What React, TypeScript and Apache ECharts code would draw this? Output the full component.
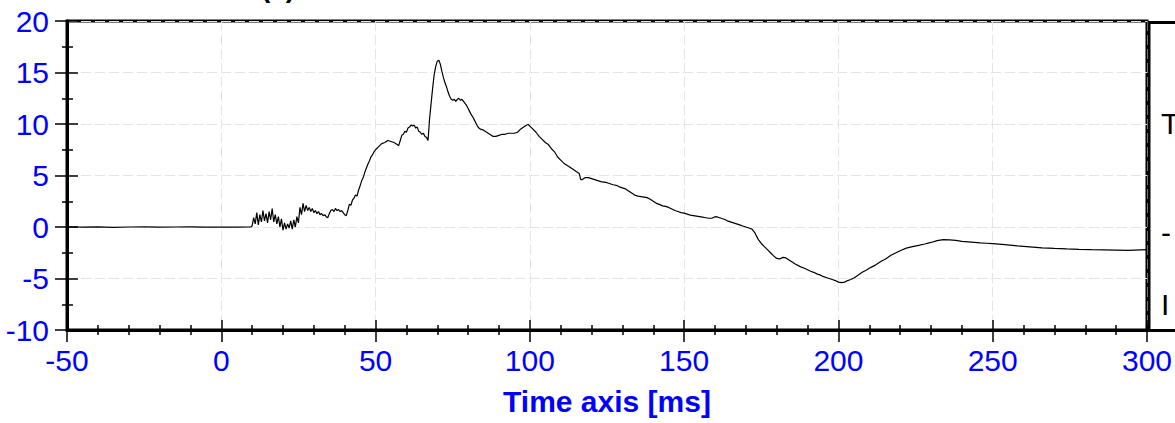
import React, { useEffect, useRef } from "react";
import * as echarts from "echarts";

const timeMs: number[] = [
  -50, -45, -40, -35, -30, -25, -20, -15, -10, -5, 0, 5, 9.5,
  10, 10.5, 11, 11.5, 12, 12.5, 13, 13.5, 14, 14.5, 15, 15.5, 16, 16.5, 17, 17.5, 18, 18.5, 19, 19.5,
  20, 20.5, 21, 21.5, 22, 22.5, 23, 23.5, 24, 24.5, 25, 25.5, 26, 26.5, 27, 27.5, 28, 28.5, 29, 29.5,
  30, 30.5, 31, 31.5, 32, 32.5, 33, 33.5, 34, 34.5, 35, 35.5, 36, 36.5, 37, 37.5, 38, 38.5, 39, 39.5,
  40, 40.5, 41, 41.5, 42, 42.5, 43, 43.5, 44, 44.5, 45, 45.5, 46, 46.5, 47, 47.5, 48, 48.5, 49, 49.5,
  50, 51, 52, 53, 54, 55, 56, 57, 57.5, 58, 58.5, 59, 59.5, 60, 60.5, 61, 61.5, 62, 62.5, 63, 63.5,
  64, 64.5, 65, 65.5, 66, 66.5, 67, 67.5, 68, 68.5, 69, 69.5, 70, 70.5, 71, 71.5, 72, 72.5, 73, 73.5,
  74, 74.5, 75, 75.5, 76, 76.5, 77, 77.5, 78, 78.5, 79, 79.5, 80, 80.5, 81, 81.5, 82, 82.5, 83, 83.5,
  84, 85, 86, 87, 88, 89, 90, 91, 92, 93, 94, 95, 96, 97, 98, 99, 99.5, 100, 101, 102, 103, 104, 105,
  106, 107, 108, 109, 110, 111, 112, 113, 114, 115, 116, 116.5, 117, 118, 119, 120, 121, 122, 123, 124,
  125, 126, 127, 128, 129, 130, 131, 132, 133, 134, 135, 136, 137, 138, 139, 140, 141, 142, 143, 144,
  145, 146, 147, 148, 149, 150, 151, 152, 153, 154, 155, 156, 157, 158, 159, 160, 161, 162, 163, 164,
  165, 166, 167, 168, 169, 170, 171, 172, 173, 174, 175, 176, 177, 178, 179, 180, 181, 182, 183, 184,
  185, 186, 187, 188, 189, 190, 191, 192, 193, 194, 195, 196, 197, 198, 199, 200, 201, 202, 203, 204,
  205, 206, 207, 208, 209, 210, 211, 212, 213, 214, 215, 216, 217, 218, 219, 220, 222, 224, 226, 228,
  230, 232, 234, 236, 238, 240, 242, 244, 246, 248, 250, 254, 258, 262, 266, 270, 274, 278, 282, 286,
  290, 294, 298, 300,
];

const signal: number[] = [
  0.0, -0.02, 0.01, -0.03, 0.0, 0.02, -0.02, 0.0, 0.01, -0.02, 0.0, -0.01, 0.0,
  0.1, 0.9, 0.3, 1.4, 0.2, 1.2, 0.5, 1.6, 0.6, 1.3, 0.4, 1.5, 0.7, 1.8, 0.5, 1.2, 0.3, 1.0, 0.0, 0.8,
  -0.3, 0.4, -0.2, 0.3, -0.1, 0.6, -0.2, 0.7, 0.0, 1.0, 0.4, 1.9, 1.2, 2.3, 1.5, 2.1, 1.6, 1.9, 1.5, 1.8,
  1.4, 1.6, 1.3, 1.5, 1.2, 1.3, 1.1, 1.2, 1.0, 0.9, 1.3, 1.6, 1.7, 1.5, 1.8, 1.6, 1.7, 1.5, 1.6, 1.4,
  1.2, 1.1, 1.6, 2.2, 2.1, 2.6, 2.8, 3.1, 3.0, 3.6, 4.0, 4.5, 4.8, 5.3, 5.7, 6.1, 6.4, 6.8, 7.0, 7.3,
  7.5, 7.8, 8.1, 8.2, 8.4, 8.3, 8.2, 8.0, 7.9, 8.4, 8.9, 9.0, 9.3, 9.2, 9.6, 9.7, 9.9, 9.8, 9.9, 9.6, 9.7,
  9.3, 9.2, 9.0, 9.1, 8.8, 8.7, 8.4, 10.5, 12.0, 13.5, 14.8, 15.6, 16.1, 16.2, 15.8, 15.1, 14.5, 14.0, 13.6, 13.1,
  12.7, 12.4, 12.3, 12.4, 12.2, 12.4, 12.5, 12.3, 12.4, 12.2, 12.0, 11.8, 11.5, 11.2, 10.9, 10.7, 10.4, 10.1, 9.8, 9.6,
  9.5, 9.4, 9.2, 9.0, 8.8, 8.8, 8.9, 9.0, 9.0, 9.1, 9.1, 9.1, 9.2, 9.5, 9.7, 9.9, 9.95, 9.8, 9.5, 9.2, 8.8, 8.5, 8.2,
  8.0, 7.6, 7.3, 6.8, 6.5, 6.2, 6.0, 5.8, 5.6, 5.4, 5.2, 4.6, 4.6, 4.8, 4.8, 4.7, 4.6, 4.5, 4.4, 4.35,
  4.3, 4.2, 4.1, 4.05, 3.9, 3.8, 3.7, 3.5, 3.3, 3.1, 3.0, 2.95, 2.9, 2.85, 2.7, 2.5, 2.3, 2.2, 2.05, 2.0,
  1.9, 1.75, 1.6, 1.5, 1.4, 1.35, 1.25, 1.15, 1.1, 1.05, 1.0, 0.95, 0.9, 0.85, 0.85, 1.0, 0.95, 0.85, 0.75, 0.6,
  0.5, 0.4, 0.3, 0.2, 0.1, 0.0, -0.1, -0.2, -0.6, -1.2, -1.6, -1.9, -2.2, -2.5, -2.8, -3.05, -3.1, -2.95, -3.0, -3.2,
  -3.4, -3.6, -3.75, -3.9, -4.0, -4.15, -4.3, -4.4, -4.55, -4.65, -4.8, -4.9, -5.0, -5.1, -5.2, -5.35, -5.4, -5.35, -5.2, -5.1,
  -4.95, -4.75, -4.55, -4.35, -4.2, -4.0, -3.85, -3.7, -3.5, -3.3, -3.15, -2.95, -2.75, -2.6, -2.45, -2.3, -2.05, -1.9, -1.78, -1.65,
  -1.5, -1.32, -1.22, -1.25, -1.3, -1.4, -1.45, -1.5, -1.55, -1.58, -1.62, -1.72, -1.84, -1.93, -2.02, -2.08, -2.13, -2.17, -2.2, -2.22,
  -2.24, -2.26, -2.22, -2.2,
];

const xMin = -50;
const xMax = 300;
const xStep = 50;
const yMin = -10;
const yMax = 20;
const yStep = 5;
const xTitle = "Time axis [ms]";
const topTitle = "(s)";
const sideTexts = ["T", "-", "I"];

const BLUE = "#0000ff";
const FONT = "'Liberation Sans', Arial, sans-serif";

export default function App() {
  const ref = useRef<HTMLDivElement>(null);
  useEffect(() => {
    if (!ref.current) return;
    const chart = echarts.init(ref.current, null, { renderer: "svg" });
    const data = timeMs.map((t, i) => [t, signal[i]]);
    const splitLine = { show: true, lineStyle: { color: "#e4e4e4", type: [10, 4], width: 1 } };
    const baseX = {
      type: "value",
      min: xMin,
      max: xMax,
      interval: xStep,
      position: "bottom",
    };
    const baseY = {
      type: "value",
      min: yMin,
      max: yMax,
      interval: yStep,
      position: "left",
    };
    chart.setOption({
      animation: false,
      grid: {
        left: 67,
        top: 21,
        right: 27,
        bottom: 93,
        show: true,
        borderColor: "#000",
        borderWidth: 3,
        backgroundColor: "transparent",
      },
      xAxis: [
        {
          ...baseX,
          name: xTitle,
          nameLocation: "middle",
          nameGap: 56,
          nameTextStyle: { color: BLUE, fontSize: 30, fontWeight: "bold", fontFamily: FONT },
          axisLine: { show: true, onZero: false, lineStyle: { color: "#000", width: 3 } },
          axisTick: { show: true, inside: false, length: 12, lineStyle: { color: "#000", width: 1.5 } },
          minorTick: { show: true, splitNumber: 5, length: 5, lineStyle: { color: "#000", width: 1.5 } },
          axisLabel: { color: BLUE, fontSize: 30, fontFamily: FONT, margin: 15 },
          splitLine,
        },
        {
          ...baseX,
          axisLine: { show: false, onZero: false },
          axisTick: { show: true, inside: true, length: 10, lineStyle: { color: "#000", width: 1.5 } },
          minorTick: { show: true, splitNumber: 5, length: 5, lineStyle: { color: "#000", width: 1.5 } },
          axisLabel: { show: false },
          splitLine: { show: false },
        },
      ],
      yAxis: [
        {
          ...baseY,
          axisLine: { show: true, onZero: false, lineStyle: { color: "#000", width: 3 } },
          axisTick: { show: true, inside: false, length: 12, lineStyle: { color: "#000", width: 1.5 } },
          minorTick: { show: true, splitNumber: 2, length: 5, lineStyle: { color: "#000", width: 1.5 } },
          axisLabel: { color: BLUE, fontSize: 30, fontFamily: FONT, margin: 18 },
          splitLine,
        },
        {
          ...baseY,
          axisLine: { show: false, onZero: false },
          axisTick: { show: true, inside: true, length: 11, lineStyle: { color: "#000", width: 1.5 } },
          minorTick: { show: true, splitNumber: 2, length: 6, lineStyle: { color: "#000", width: 1.5 } },
          axisLabel: { show: false },
          splitLine: { show: false },
        },
      ],
      series: [
        {
          type: "line",
          data,
          xAxisIndex: 0,
          yAxisIndex: 0,
          showSymbol: false,
          symbol: "none",
          lineStyle: { color: "#000", width: 1.2 },
          z: 3,
        },
      ],
      graphic: [
        {
          type: "rect",
          z: 10,
          shape: { x: 1149, y: 22.5, width: 60, height: 308 },
          style: { fill: "#fff", stroke: "#000", lineWidth: 3 },
        },
        ...sideTexts.map((s, i) => ({
          type: "text",
          z: 11,
          x: 1161,
          y: [123, 232, 304][i],
          style: { text: s, fill: "#000", font: `30px ${FONT}`, verticalAlign: "middle", align: "left" },
        })),
        {
          type: "text",
          z: 11,
          x: 278,
          y: -13,
          style: { text: topTitle, fill: "#000", font: `bold 28px ${FONT}`, verticalAlign: "middle", align: "center" },
        },
      ],
    });
    return () => chart.dispose();
  }, []);
  return <div ref={ref} style={{ width: 1175, height: 423, position: "absolute", left: 0, top: 0 }} />;
}
